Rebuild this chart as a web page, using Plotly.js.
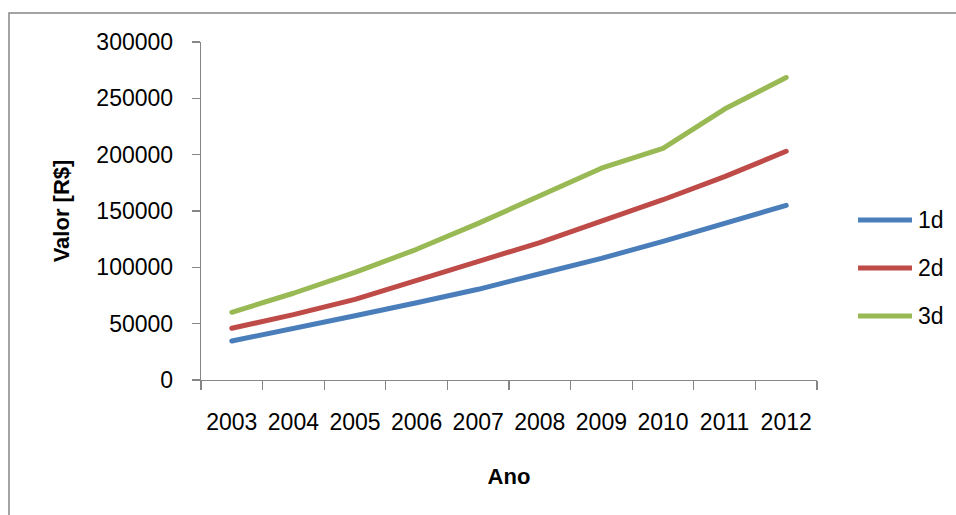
<!DOCTYPE html>
<html>
<head>
<meta charset="utf-8">
<script src="https://cdn.plot.ly/plotly-3.0.1.min.js"></script>
<style>
  html, body { margin: 0; padding: 0; background: #ffffff; }
  #chart { width: 956px; height: 515px; }
  #chart .scatterlayer path.js-line { stroke-linecap: round; stroke-linejoin: round; }
</style>
</head>
<body>
<div id="chart"></div>
<script>
// Anos (categorias do eixo x)
const anos = ['2003', '2004', '2005', '2006', '2007', '2008', '2009', '2010', '2011', '2012'];

// Valores em R$ por série
const serie1d = [34600, 45500, 57000, 68500, 80500, 94300, 108000, 123000, 139000, 155000];
const serie2d = [45900, 58000, 71500, 88500, 104500, 122000, 141000, 160000, 180500, 203000];
const serie3d = [60100, 77000, 95500, 116000, 139000, 164000, 188000, 205500, 240500, 268500];

const nomes = ['1d', '2d', '3d'];
const cores = ['#4A7EBB', '#BE4B48', '#98B954'];
const series = [serie1d, serie2d, serie3d];

const fonte = 'Liberation Sans, Arial, sans-serif';
const eixoCor = '#868686';

const traces = series.map((valores, i) => ({
  type: 'scatter',
  mode: 'lines',
  name: nomes[i],
  x: anos,
  y: valores,
  line: { color: cores[i], width: 5 },
  showlegend: false,
  hoverinfo: 'x+y+name'
}));

// Legenda desenhada à direita da área do gráfico
const legendaY = [0.4734, 0.3314, 0.1893];
const shapes = [
  // moldura externa do gráfico
  { type: 'rect', xref: 'paper', yref: 'paper', x0: -0.3117, x1: 2, y0: -2, y1: 1.0858,
    line: { color: eixoCor, width: 1.5 }, fillcolor: 'rgba(0,0,0,0)', layer: 'below' }
];
const annotations = [];
nomes.forEach((nome, i) => {
  shapes.push({ type: 'line', xref: 'paper', yref: 'paper',
    x0: 1.0666, x1: 1.1542, y0: legendaY[i], y1: legendaY[i],
    line: { color: cores[i], width: 5 } });
  annotations.push({ xref: 'paper', yref: 'paper', x: 1.1607, y: legendaY[i],
    text: nome, showarrow: false, xanchor: 'left', yanchor: 'middle',
    font: { family: fonte, size: 23, color: '#000000' } });
});

const layout = {
  width: 956,
  height: 515,
  margin: { l: 201, r: 139, t: 42, b: 135 },
  paper_bgcolor: '#ffffff',
  plot_bgcolor: '#ffffff',
  font: { family: fonte, size: 23, color: '#000000' },
  showlegend: false,
  xaxis: {
    type: 'category',
    range: [-0.5, 9.5],
    tickson: 'boundaries',
    ticks: 'outside',
    ticklen: 9,
    tickcolor: eixoCor,
    tickwidth: 1.3,
    showline: true,
    linecolor: eixoCor,
    linewidth: 1.3,
    showgrid: false,
    zeroline: false,
    ticklabelstandoff: 21,
    tickfont: { family: fonte, size: 23, color: '#000000' },
    title: { text: '<b>Ano</b>', standoff: 34, font: { family: fonte, size: 22, color: '#000000' } }
  },
  yaxis: {
    range: [0, 300000],
    dtick: 50000,
    tick0: 0,
    tickformat: 'd',
    ticks: 'outside',
    ticklen: 8,
    tickcolor: eixoCor,
    tickwidth: 1.3,
    showline: true,
    linecolor: eixoCor,
    linewidth: 1.3,
    showgrid: false,
    zeroline: false,
    ticklabelstandoff: 14,
    tickfont: { family: fonte, size: 23, color: '#000000' },
    title: { text: '<b>Valor [R$]</b>', standoff: 20, font: { family: fonte, size: 22, color: '#000000' } }
  },
  shapes: shapes,
  annotations: annotations
};

Plotly.newPlot('chart', traces, layout, { displayModeBar: false, staticPlot: true });
</script>
</body>
</html>
